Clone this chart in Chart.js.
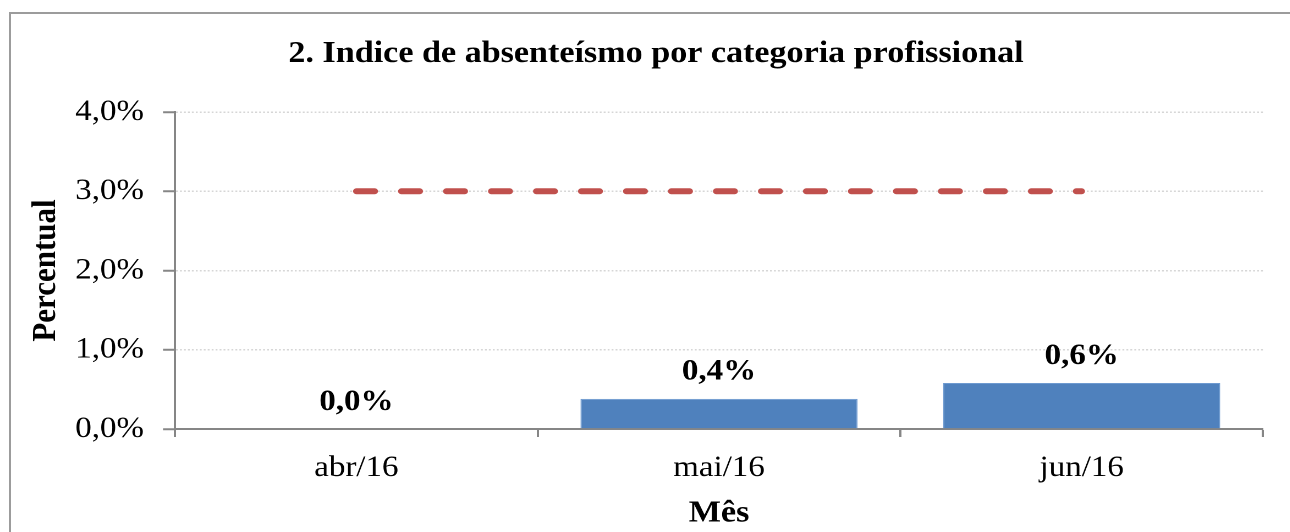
<!DOCTYPE html>
<html lang="pt">
<head>
    <meta charset="UTF-8">
    <title>Indice de absenteísmo</title>
    <style>
        body { margin: 0; padding: 0; background: #fff; overflow: hidden; }
        #frame { position: absolute; left: 9px; top: 12px; right: -20px; bottom: -20px;
                 border-left: 2px solid #9c9c9c; border-top: 2px solid #9c9c9c; }
        /* the source image is stretched horizontally, so the chart is too */
        #wrap { position: absolute; left: 0; top: 0; width: 1173px; height: 532px;
                transform: scaleX(1.1); transform-origin: 0 0; }
    </style>
    <script src="https://cdn.jsdelivr.net/npm/chart.js"></script>
</head>
<body>

<div id="frame"></div>
<div id="wrap"><canvas id="chart" width="1173" height="532"></canvas></div>

<script>
    // Values (percent)
    var months = ['abr/16', 'mai/16', 'jun/16'];
    var absenteeism = [0.0, 0.38, 0.58];
    var target = [3.0, 3.0, 3.0];
    var yTicks = [0, 1, 2, 3, 4];
    var chartTitle = '2. Indice de absenteísmo por categoria profissional';

    var serif = '"Liberation Serif", "Times New Roman", serif';
    var axisGray = '#868686';

    function pct(v) {
        return v.toFixed(1).replace('.', ',') + '%';
    }

    // Title drawn by hand so it can sit off-centre like the original
    var titlePlugin = {
        id: 'titlePlugin',
        afterDraw: function(chart) {
            var ctx = chart.ctx;
            ctx.save();
            ctx.font = 'bold 31px ' + serif;
            ctx.fillStyle = '#000';
            ctx.textAlign = 'center';
            ctx.textBaseline = 'middle';
            ctx.fillText(chartTitle, 596.4, 54);
            ctx.restore();
        }
    };

    // Bold value labels above bars
    var barLabels = {
        id: 'barLabels',
        afterDatasetsDraw: function(chart) {
            var ctx = chart.ctx;
            var meta = chart.getDatasetMeta(0);
            ctx.save();
            ctx.font = 'bold 30px ' + serif;
            ctx.fillStyle = '#000';
            ctx.textAlign = 'center';
            ctx.textBaseline = 'middle';
            meta.data.forEach(function(bar, i) {
                ctx.fillText(pct(absenteeism[i]), bar.x, bar.y - 27);
            });
            ctx.restore();
        }
    };

    new Chart(document.getElementById('chart').getContext('2d'), {
        data: {
            labels: months,
            datasets: [{
                type: 'bar',
                data: absenteeism,
                backgroundColor: '#4F81BD',
                borderColor: '#6e9ad0',
                borderWidth: 1,
                barPercentage: 0.764,
                categoryPercentage: 1,
                order: 2
            }, {
                type: 'line',
                data: target,
                borderColor: '#C0504D',
                borderWidth: 6,
                borderDash: [16.7, 24.2],
                borderCapStyle: 'round',
                pointRadius: 0,
                fill: false,
                order: 1
            }]
        },
        plugins: [barLabels, titlePlugin],
        options: {
            responsive: false,
            animation: false,
            devicePixelRatio: 2,
            layout: { padding: { left: 0, right: 24.8, top: 112, bottom: 0 } },
            plugins: {
                legend: { display: false },
                tooltip: { enabled: false },
                title: { display: false }
            },
            scales: {
                x: {
                    afterFit: function(scale) { scale.height = 103; },
                    grid: {
                        offset: true,
                        drawOnChartArea: false,
                        tickLength: 8,
                        tickColor: axisGray,
                        tickWidth: 2
                    },
                    border: { display: true, color: axisGray, width: 2 },
                    ticks: {
                        color: '#000',
                        padding: 13,
                        font: { family: serif, size: 30 }
                    },
                    title: {
                        display: true,
                        text: 'Mês',
                        color: '#000',
                        font: { family: serif, size: 31, weight: 'bold', lineHeight: 1.2 },
                        padding: { top: 0, bottom: 0 }
                    }
                },
                y: {
                    min: 0,
                    max: 4,
                    afterFit: function(scale) { scale.width = 159.1; },
                    afterBuildTicks: function(scale) {
                        scale.ticks = yTicks.map(function(v) { return { value: v }; });
                    },
                    grid: {
                        color: '#d6d6d6',
                        lineWidth: 1.5,
                        tickLength: 10.9,
                        tickColor: axisGray,
                        tickWidth: 2
                    },
                    border: { display: true, color: axisGray, width: 2, dash: [1.7, 1.9] },
                    ticks: {
                        color: '#000',
                        padding: 17.3,
                        font: { family: serif, size: 30 },
                        callback: function(v) { return pct(v); }
                    },
                    title: {
                        display: true,
                        text: 'Percentual',
                        color: '#000',
                        font: { family: serif, size: 31, weight: 'bold', lineHeight: 1.2 },
                        padding: { top: 23.2, bottom: 0 }
                    }
                }
            }
        }
    });
</script>

</body>
</html>
